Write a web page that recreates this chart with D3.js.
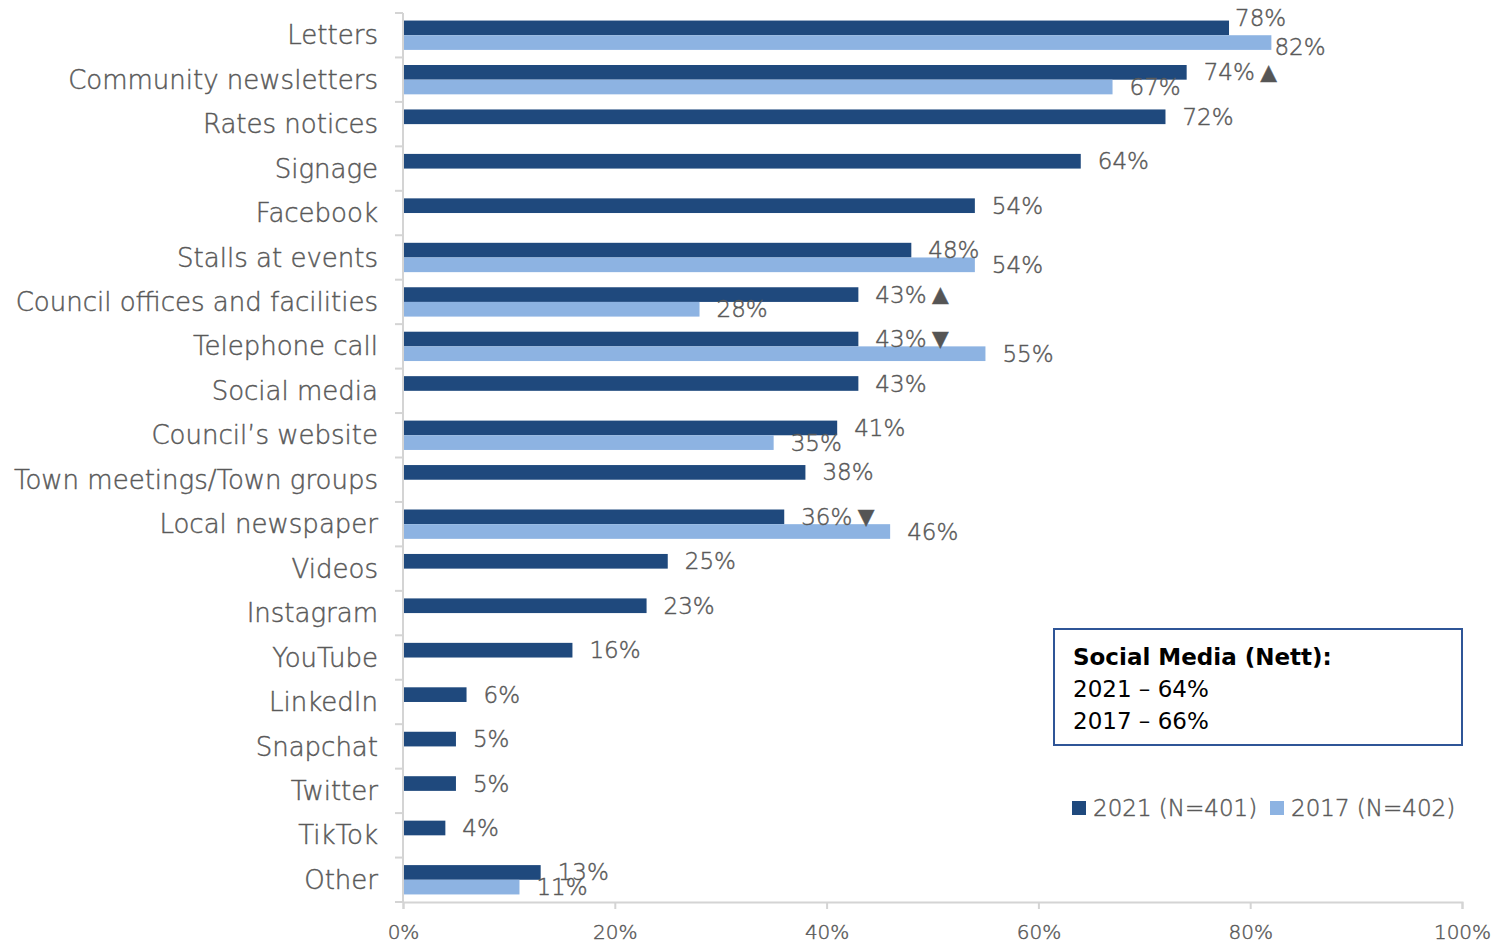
<!DOCTYPE html>
<html>
<head>
<meta charset="utf-8">
<script src="https://cdn.jsdelivr.net/npm/d3@7"></script>
<style>
  html, body { margin: 0; padding: 0; background: #fff; }
  svg { display: block; }
  text { font-family: "DejaVu Sans", "Noto Sans", sans-serif; font-weight: 200; }
  text.soft { stroke: #595959; stroke-width: 0.45px; }
</style>
</head>
<body>
<svg id="chart" width="1511" height="946"></svg>
<script>
// Communication channels
const categories = [
  "Letters", "Community newsletters", "Rates notices", "Signage", "Facebook",
  "Stalls at events", "Council offices and facilities", "Telephone call",
  "Social media", "Council\u2019s website", "Town meetings/Town groups",
  "Local newspaper", "Videos", "Instagram", "YouTube", "LinkedIn",
  "Snapchat", "Twitter", "TikTok", "Other"
];
// 2021 (N=401), percent
const values2021 = [78, 74, 72, 64, 54, 48, 43, 43, 43, 41, 38, 36, 25, 23, 16, 6, 5, 5, 4, 13];
// 2017 (N=402), percent; null where the channel was not asked
const values2017 = [82, 67, null, null, null, 54, 28, 55, null, 35, null, 46, null, null, null, null, null, null, null, 11];
// Significant change markers for 2021 vs 2017
const changeMarks = ["", "\u25B2", "", "", "", "", "\u25B2", "\u25BC", "", "", "", "\u25BC", "", "", "", "", "", "", "", ""];
const xTicks = [0, 20, 40, 60, 80, 100];
const seriesNames = ["2021 (N=401)", "2017 (N=402)"];
const boxLines = ["Social Media (Nett):", "2021 \u2013 64%", "2017 \u2013 66%"];

const colors = { y2021: "#1f497d", y2017: "#8db3e2" };
const textGrey = "#595959";
const axisGrey = "#d4d4d4";

const svg = d3.select("#chart");
const plot = { left: 403, right: 1462, top: 13, bottom: 902 };

const x = d3.scaleLinear().domain([0, 100]).range([plot.left, plot.right]);
const y = d3.scaleBand().domain(categories).range([plot.top, plot.bottom]).padding(0);
const barH = y.bandwidth() * 0.33;
const barOffset = y.bandwidth() / 2 - barH;

// Hand-placed label shifts for the crowded top row
const labelShift = {
  "Letters": { a: [-11, -10], b: [-14, 4] }
};

// Bars
const g = svg.append("g");
categories.forEach((c, i) => {
  const y0 = y(c) + barOffset;
  g.append("rect")
    .attr("x", x(0)).attr("y", y0)
    .attr("width", x(values2021[i]) - x(0)).attr("height", barH)
    .attr("fill", colors.y2021);
  if (values2017[i] != null) {
    g.append("rect")
      .attr("x", x(0)).attr("y", y0 + barH)
      .attr("width", x(values2017[i]) - x(0)).attr("height", barH)
      .attr("fill", colors.y2017);
  }
});

// Axes
const yAxis = svg.append("g");
yAxis.append("line")
  .attr("x1", plot.left).attr("x2", plot.left)
  .attr("y1", plot.top).attr("y2", plot.bottom)
  .attr("stroke", axisGrey).attr("stroke-width", 2);
const bounds = categories.map(c => y(c)).concat([plot.bottom]);
yAxis.selectAll("line.tick").data(bounds).join("line")
  .attr("class", "tick")
  .attr("x1", plot.left - 8).attr("x2", plot.left)
  .attr("y1", d => d).attr("y2", d => d)
  .attr("stroke", axisGrey).attr("stroke-width", 2);
yAxis.selectAll("text").data(categories).join("text")
  .attr("class", "soft")
  .attr("x", 378).attr("y", d => y(d) + y.bandwidth() / 2)
  .attr("dy", "0.35em")
  .attr("text-anchor", "end")
  .attr("font-size", 26)
  .attr("fill", textGrey)
  .text(d => d);

const xAxis = svg.append("g").attr("transform", `translate(0,${plot.bottom})`)
  .call(d3.axisBottom(x).tickValues(xTicks).tickFormat(d => d + "%").tickSize(7).tickPadding(16));
xAxis.select(".domain").attr("stroke", axisGrey).attr("stroke-width", 2);
xAxis.selectAll(".tick line").attr("stroke", axisGrey).attr("stroke-width", 2);
xAxis.selectAll(".tick text")
  .attr("class", "soft")
  .attr("font-size", 20).attr("fill", textGrey)
  .attr("font-family", "'DejaVu Sans', 'Noto Sans', sans-serif");

// Value labels, with change arrows where significant
const labels = svg.append("g").attr("font-size", 23).attr("fill", textGrey);
categories.forEach((c, i) => {
  const y0 = y(c) + barOffset;
  const s = labelShift[c] || { a: [0, 0], b: [0, 0] };
  const t = labels.append("text")
    .attr("class", "soft")
    .attr("x", x(values2021[i]) + 17 + s.a[0])
    .attr("y", y0 + barH / 2 + s.a[1])
    .attr("dy", "0.35em");
  t.append("tspan").text(values2021[i] + "%");
  if (changeMarks[i]) {
    t.append("tspan").attr("dx", 0).attr("font-size", 28).attr("dy", "0.04em")
      .attr("fill", "#555").text(changeMarks[i]);
  }
  if (values2017[i] != null) {
    labels.append("text")
      .attr("class", "soft")
      .attr("x", x(values2017[i]) + 17 + s.b[0])
      .attr("y", y0 + barH * 1.5 + s.b[1])
      .attr("dy", "0.35em")
      .text(values2017[i] + "%");
  }
});

// Summary box
const box = svg.append("g");
box.append("rect")
  .attr("x", 1054).attr("y", 629).attr("width", 408).attr("height", 116)
  .attr("fill", "#fff").attr("stroke", "#2f5597").attr("stroke-width", 2);
box.selectAll("text").data(boxLines).join("text")
  .attr("x", 1073).attr("y", (d, i) => 665 + i * 32)
  .attr("font-size", 23)
  .style("font-weight", (d, i) => i === 0 ? "bold" : "normal")
  .attr("fill", "#000")
  .text(d => d);

// Legend
const legend = svg.append("g");
const legendItems = [
  { name: seriesNames[0], color: colors.y2021, x: 1072 },
  { name: seriesNames[1], color: colors.y2017, x: 1270 }
];
legendItems.forEach(it => {
  legend.append("rect").attr("x", it.x).attr("y", 801).attr("width", 14).attr("height", 14).attr("fill", it.color);
  legend.append("text").attr("class", "soft")
    .attr("x", it.x + 21).attr("y", 808).attr("dy", "0.35em")
    .attr("font-size", 23).attr("fill", textGrey).text(it.name);
});
</script>
</body>
</html>
